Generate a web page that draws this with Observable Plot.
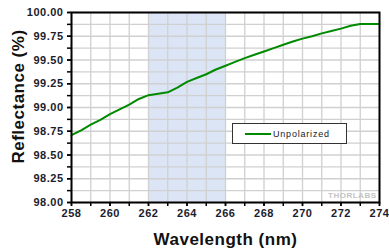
<!DOCTYPE html>
<html>
<head>
<meta charset="utf-8">
<script src="https://cdn.jsdelivr.net/npm/d3@7"></script>
<script src="https://cdn.jsdelivr.net/npm/@observablehq/plot@0.6"></script>
<style>
  html, body { margin: 0; padding: 0; background: #fff; }
  #wrap { position: relative; width: 389px; height: 250px; }
  #legend {
    position: absolute; left: 232px; top: 123px; width: 115px; height: 21px;
    border: 1.5px solid #333; background: #fff; box-sizing: border-box;
    font-family: "Liberation Sans", Arial, sans-serif; font-size: 9px; letter-spacing: 0.8px; color: #222;
    display: flex; align-items: center;
  }
  #legend .sw { display: inline-block; width: 26px; height: 2px; background: #008a00; margin-left: 12px; margin-right: 2px; }
</style>
</head>
<body>
<div id="wrap"></div>
<script>
const wavelength = [258, 258.5, 259, 259.5, 260, 260.5, 261, 261.5, 262, 262.5, 263, 263.5, 264, 264.5, 265, 265.5, 266, 266.5, 267, 267.5, 268, 268.5, 269, 269.5, 270, 270.5, 271, 271.5, 272, 272.5, 273, 273.5, 274];
const reflectance = [98.71, 98.76, 98.82, 98.87, 98.93, 98.98, 99.03, 99.09, 99.13, 99.145, 99.16, 99.21, 99.27, 99.31, 99.35, 99.40, 99.44, 99.48, 99.52, 99.555, 99.59, 99.625, 99.66, 99.695, 99.725, 99.75, 99.78, 99.805, 99.83, 99.86, 99.88, 99.88, 99.88];
const seriesName = "Unpolarized";
const bandStart = [262];
const bandEnd = [266];
const xTickLabels = [258, 260, 262, 264, 266, 268, 270, 272, 274];
const xMinorTicks = [258, 259, 260, 261, 262, 263, 264, 265, 266, 267, 268, 269, 270, 271, 272, 273, 274];
const yTickLabels = [98.00, 98.25, 98.50, 98.75, 99.00, 99.25, 99.50, 99.75, 100.00];
const yMinorTicks = [98.000, 98.125, 98.250, 98.375, 98.500, 98.625, 98.750, 98.875, 99.000, 99.125, 99.250, 99.375, 99.500, 99.625, 99.750, 99.875, 100.000];
const xTitle = "Wavelength (nm)";
const yTitle = "Reflectance (%)";

const data = wavelength.map((w, i) => ({w, r: reflectance[i]}));
const bands = bandStart.map((s, i) => ({x1: s, x2: bandEnd[i]}));

const font = "'Liberation Sans', Arial, sans-serif";

const chart = Plot.plot({
  width: 389,
  height: 250,
  marginLeft: 71,
  marginRight: 10,
  marginTop: 12,
  marginBottom: 48,
  style: {fontFamily: font, fontSize: "11px", fontWeight: "bold", color: "#1c1c2c", background: "#fff", letterSpacing: "0.5px"},
  x: {domain: [258, 274]},
  y: {domain: [98, 100]},
  marks: [
    Plot.rect(bands, {x1: "x1", x2: "x2", fill: "#dce5f6"}),
    Plot.gridX(xMinorTicks, {stroke: "#d0d0d0", strokeOpacity: 1, strokeWidth: 1.3}),
    Plot.gridY(yMinorTicks, {stroke: "#d0d0d0", strokeOpacity: 1, strokeWidth: 1.3}),
    Plot.line(data, {x: "w", y: "r", stroke: "#008a00", strokeWidth: 2}),
    Plot.frame({stroke: "#000", strokeWidth: 2}),
    Plot.axisX(xMinorTicks, {tickSize: 4, tickPadding: 0, text: null, label: null, stroke: "#000", strokeWidth: 1.5}),
    Plot.axisX(xTickLabels, {tickSize: 4, tickPadding: 3, tickFormat: d => String(d), label: null, stroke: "#000", strokeWidth: 1.5}),
    Plot.axisY(yMinorTicks, {tickSize: 4, text: null, label: null, stroke: "#000", strokeWidth: 1.5}),
    Plot.axisY(yTickLabels, {tickSize: 4, tickPadding: 4, tickFormat: d => d.toFixed(2), label: null, stroke: "#000", strokeWidth: 1.5}),
    Plot.text([xTitle], {frameAnchor: "bottom", dy: 37, fontSize: 17, fontWeight: "bold", fill: "#111", text: d => d, textAnchor: "middle", lineAnchor: "middle"}),
    Plot.text([yTitle], {frameAnchor: "left", dx: -53, dy: -11, rotate: -90, fontSize: 17, fontWeight: "bold", fill: "#111", text: d => d, textAnchor: "middle", lineAnchor: "middle"}),
    Plot.text(["THORLABS"], {frameAnchor: "bottom-right", dx: -3, dy: -5, fontSize: 8, fontWeight: "bold", fill: "#c4c4c4", text: d => d, textAnchor: "end"})
  ]
});

const wrap = document.getElementById("wrap");
wrap.appendChild(chart);
const legend = document.createElement("div");
legend.id = "legend";
legend.innerHTML = '<span class="sw"></span><span></span>';
legend.lastChild.textContent = seriesName;
wrap.appendChild(legend);
</script>
</body>
</html>
